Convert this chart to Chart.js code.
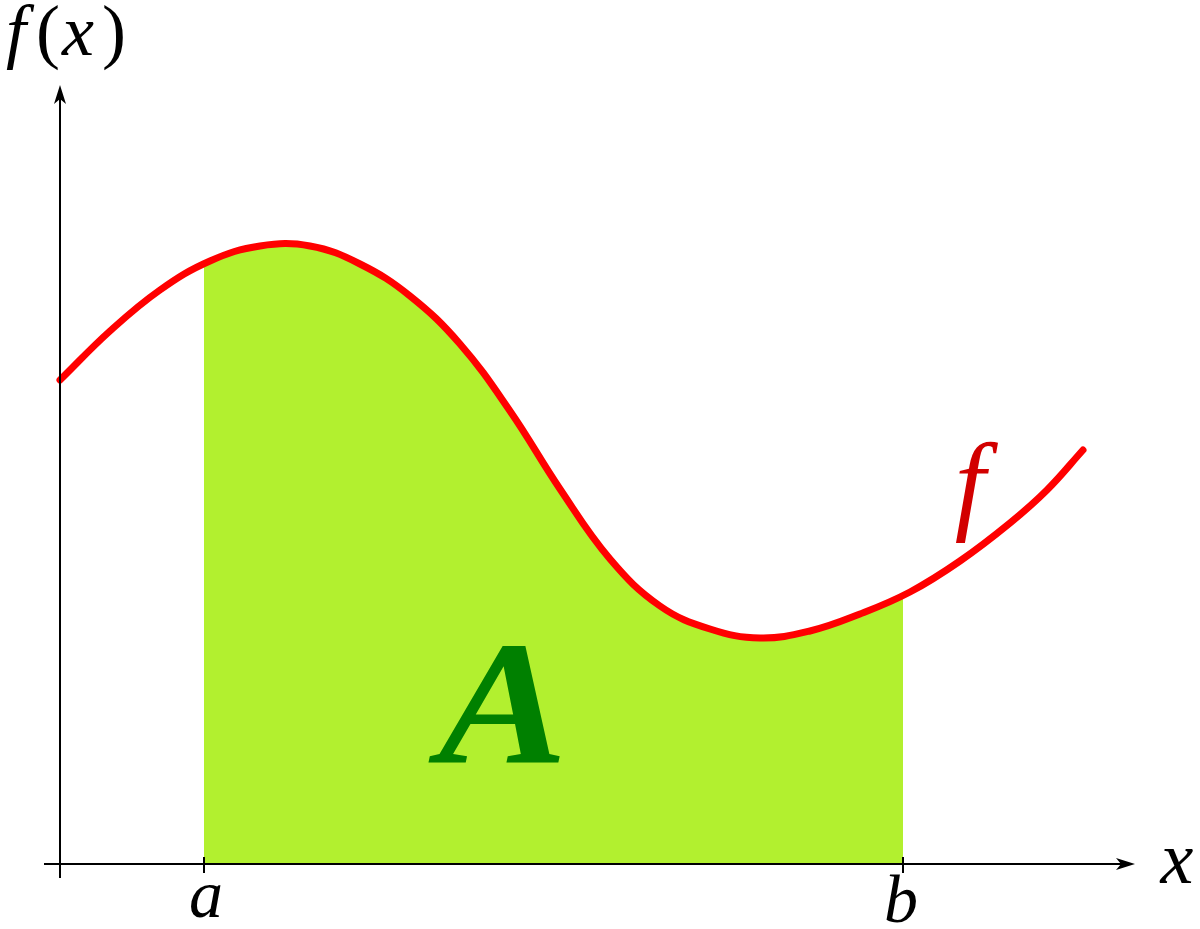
<!DOCTYPE html>
<html>
<head>
<meta charset="utf-8">
<script src="https://cdn.jsdelivr.net/npm/chart.js@4/dist/chart.umd.min.js"></script>
<style>
html,body{margin:0;padding:0;background:#fff;}
#wrap{width:1200px;height:929px;}
</style>
</head>
<body>
<div id="wrap"><canvas id="c" width="1200" height="929"></canvas></div>
<script>
// Curve f(x) (x to the right of the f(x) axis, y above the x axis)
const curveX = [0.00, 0.50, 1.00, 1.50, 2.00, 2.50, 3.00, 3.50, 4.00, 4.50, 5.00, 5.50, 6.00, 6.50, 7.00, 7.50, 8.00, 8.50, 9.00, 9.50, 9.87, 10.23];
const curveY = [4.84, 5.33, 5.74, 6.03, 6.18, 6.18, 6.00, 5.68, 5.20, 4.53, 3.75, 3.05, 2.58, 2.35, 2.26, 2.33, 2.50, 2.72, 3.03, 3.41, 3.74, 4.14];
// Integration bounds
const boundA = 1.44;
const boundB = 8.43;
// Axis extents
const xAxisRange = [-0.16, 10.75];
const yAxisRange = [-0.14, 7.79];
// Labels
const tickLabels = ['a', 'b'];
const curveLabel = 'f';
const areaLabel = 'A';
const xAxisLabel = 'x';

const curvePts = curveX.map((x, i) => ({x: x, y: curveY[i]}));

const SERIF = '"Liberation Serif", "Times New Roman", serif';

function arrow(ctx, tipX, tipY, dirX, dirY) {
  const len = 19, half = 6, notch = 5;
  const px = -dirY, py = dirX;
  ctx.beginPath();
  ctx.moveTo(tipX, tipY);
  ctx.lineTo(tipX - dirX*len + px*half, tipY - dirY*len + py*half);
  ctx.lineTo(tipX - dirX*(len - notch), tipY - dirY*(len - notch));
  ctx.lineTo(tipX - dirX*len - px*half, tipY - dirY*len - py*half);
  ctx.closePath();
  ctx.fill();
}

const decor = {
  id: 'decor',
  afterDatasetDraw(chart, args) {
    // keep the area fill only between a and b
    if (args.index !== 1) return;
    const ctx = chart.ctx;
    const xs = chart.scales.x;
    const area = chart.chartArea;
    ctx.save();
    ctx.fillStyle = '#fff';
    const xa = xs.getPixelForValue(boundA), xb = xs.getPixelForValue(boundB);
    ctx.fillRect(0, area.top - 30, xa, area.bottom - area.top + 40);
    ctx.fillRect(xb, area.top - 30, chart.width - xb, area.bottom - area.top + 40);
    ctx.restore();
  },
  afterDatasetsDraw(chart) {
    const ctx = chart.ctx;
    const xs = chart.scales.x, ys = chart.scales.y;
    const X = v => xs.getPixelForValue(v);
    const Y = v => ys.getPixelForValue(v);
    ctx.save();
    ctx.strokeStyle = '#000';
    ctx.fillStyle = '#000';
    ctx.lineWidth = 2;
    // x axis
    ctx.beginPath();
    ctx.moveTo(X(xAxisRange[0]), Y(0));
    ctx.lineTo(X(xAxisRange[1]) - 12, Y(0));
    ctx.stroke();
    arrow(ctx, X(xAxisRange[1]), Y(0), 1, 0);
    // y axis
    ctx.beginPath();
    ctx.moveTo(X(0), Y(yAxisRange[0]));
    ctx.lineTo(X(0), Y(yAxisRange[1]) + 12);
    ctx.stroke();
    arrow(ctx, X(0), Y(yAxisRange[1]), 0, -1);
    // ticks at a and b
    [boundA, boundB].forEach(v => {
      ctx.beginPath();
      ctx.moveTo(X(v), Y(0) - 7);
      ctx.lineTo(X(v), Y(0) + 9);
      ctx.stroke();
    });
    // tick labels
    ctx.textAlign = 'center';
    ctx.textBaseline = 'alphabetic';
    ctx.font = 'italic 68px ' + SERIF;
    ctx.fillText(tickLabels[0], X(boundA) + 2, Y(0) + 53);
    ctx.fillText(tickLabels[1], X(boundB) - 2, Y(0) + 58);
    // x axis label
    ctx.font = 'italic 74px ' + SERIF;
    ctx.fillText(xAxisLabel, X(xAxisRange[1]) + 42, Y(0) + 19);
    // y axis label f(x)
    ctx.textAlign = 'left';
    ctx.font = 'italic 72px ' + SERIF;
    ctx.fillText('f', 6, 55);
    ctx.fillText('x', 62, 55);
    ctx.font = '72px ' + SERIF;
    ctx.fillText('(', 36, 55);
    ctx.fillText(')', 102, 55);
    // curve label
    ctx.fillStyle = '#D20000';
    ctx.textAlign = 'center';
    ctx.font = 'italic 110px ' + SERIF;
    ctx.fillText(curveLabel, X(9.1), Y(3.44));
    // area label
    ctx.fillStyle = '#008000';
    ctx.font = 'italic bold 176px ' + SERIF;
    ctx.save();
    ctx.translate(X(4.43), Y(1.02));
    ctx.scale(1.1, 1);
    ctx.fillText(areaLabel, 0, 0);
    ctx.restore();
    ctx.restore();
  }
};

new Chart(document.getElementById('c'), {
  type: 'line',
  data: {
    datasets: [
      {
        label: 'f',
        data: curvePts,
        borderColor: '#FF0000',
        borderWidth: 7,
        borderCapStyle: 'round',
        borderJoinStyle: 'round',
        pointRadius: 0,
        fill: false,
        tension: 0.4,
        clip: 20,
        order: 0
      },
      {
        label: 'A',
        data: curvePts,
        borderWidth: 0,
        borderColor: 'rgba(0,0,0,0)',
        backgroundColor: '#B2F02F',
        pointRadius: 0,
        fill: 'origin',
        tension: 0.4,
        clip: 20,
        order: 1
      }
    ]
  },
  options: {
    responsive: false,
    animation: false,
    events: [],
    layout: {padding: {left: 60, right: 60, top: 84, bottom: 65}},
    plugins: {legend: {display: false}, tooltip: {enabled: false}, title: {display: false}},
    scales: {
      x: {type: 'linear', display: false, min: 0, max: 10.8},
      y: {type: 'linear', display: false, min: 0, max: 7.8}
    }
  },
  plugins: [decor]
});
</script>
</body>
</html>
